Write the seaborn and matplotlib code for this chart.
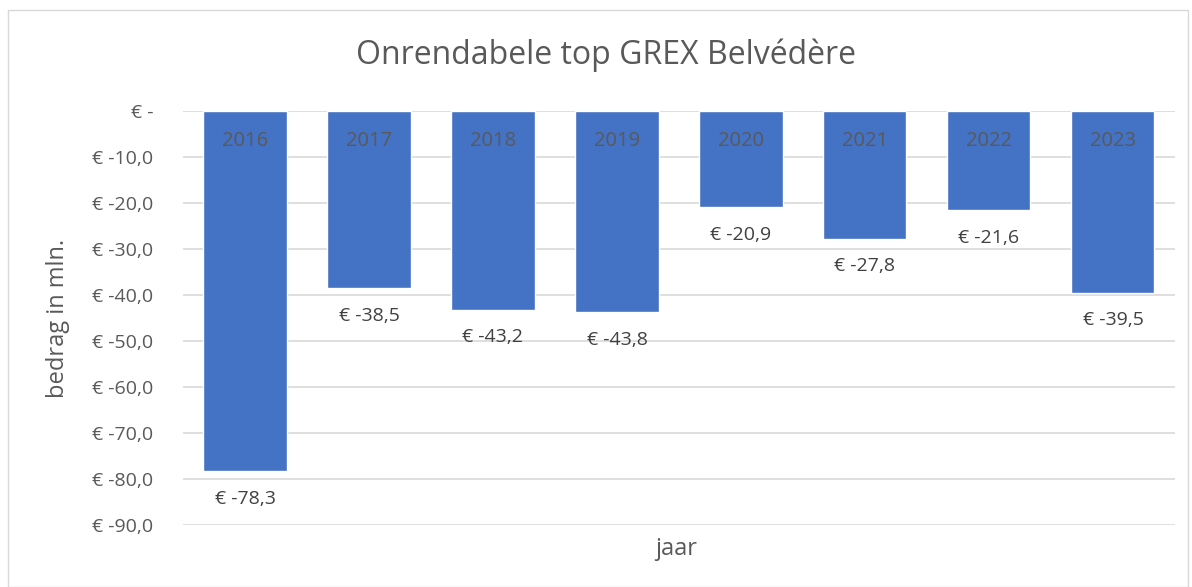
import matplotlib
matplotlib.use("Agg")
import matplotlib.pyplot as plt
import seaborn as sns
import pandas as pd
from matplotlib.patches import Rectangle

years = ["2016", "2017", "2018", "2019", "2020", "2021", "2022", "2023"]
values = [-78.3, -38.5, -43.2, -43.8, -20.9, -27.8, -21.6, -39.5]
yticks = [0, -10, -20, -30, -40, -50, -60, -70, -80, -90]

sns.set_theme(style="white")
plt.rcParams['font.family'] = ['Open Sans', 'DejaVu Sans']

df = pd.DataFrame({"jaar": years, "bedrag": values})

fig = plt.figure(figsize=(11.92, 5.87), dpi=100)
ax = fig.add_axes([0.1535, 0.1056, 0.8322, 0.7053])

grey = "#595959"
sns.barplot(data=df, x="jaar", y="bedrag", color="#4472C4", saturation=1,
            width=0.67, ax=ax, zorder=3)

ax.set_ylim(-90, 0)
ax.set_xlim(-0.5, len(years) - 0.5)
ax.set_yticks(yticks)
ax.set_yticklabels(["€ -" if v == 0 else f"€ {v:.1f}".replace(".", ",") for v in yticks],
                   fontsize=14, color=grey)
ax.yaxis.grid(True, color="#d9d9d9", linewidth=1.2, zorder=0)
ax.tick_params(axis="y", length=0, pad=21.5)
ax.tick_params(axis="x", length=0)
ax.set_xticks([])
for s in ax.spines.values():
    s.set_visible(False)

for i, (yr, v) in enumerate(zip(years, values)):
    ax.text(i, -6.5, yr, ha="center", va="center", fontsize=14.5, color=grey, zorder=5)
    ax.text(i, v - 6.0, f"€ {v:.1f}".replace(".", ","), ha="center", va="center",
            fontsize=14, color="#404040", zorder=5)

ax.set_ylabel("bedrag in mln.", fontsize=17, color=grey)
ax.set_xlabel("jaar", fontsize=17, color=grey)
ax.xaxis.set_label_coords(0.497, -0.03)
ax.yaxis.set_label_coords(-0.114, 0.5)

fig.text(0.508, 0.906, "Onrendabele top GREX Belvédère", ha="center", va="center",
         fontsize=23, color=grey)

fig.add_artist(Rectangle((0.007, 0.0), 0.99, 0.983, transform=fig.transFigure,
                         fill=False, edgecolor="#d9d9d9", linewidth=1))

fig.savefig("out.png", dpi=100)
